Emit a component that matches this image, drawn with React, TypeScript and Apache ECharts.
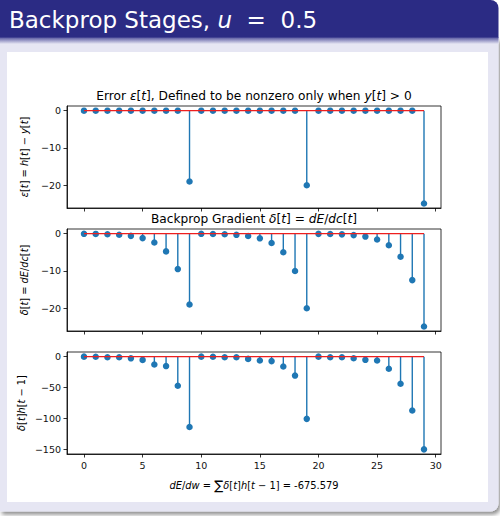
import React, { useEffect, useRef } from "react";
import * as echarts from "echarts";

// ---- data ----
const timeSteps = [0, 1, 2, 3, 4, 5, 6, 7, 8, 9, 10, 11, 12, 13, 14, 15, 16, 17, 18, 19, 20, 21, 22, 23, 24, 25, 26, 27, 28, 29];
const errorValues = [0, 0, 0, 0, 0, 0, 0, 0, 0, -19, 0, 0, 0, 0, 0, 0, 0, 0, 0, -20, 0, 0, 0, 0, 0, 0, 0, 0, 0, -24.9];
const gradientValues = [
  -0.04, -0.07, -0.15, -0.3, -0.59, -1.19, -2.38, -4.75, -9.5, -19.0,
  -0.04, -0.08, -0.16, -0.31, -0.63, -1.25, -2.5, -5.0, -10.0, -20.0,
  -0.05, -0.1, -0.19, -0.39, -0.78, -1.56, -3.1, -6.2, -12.45, -24.9,
];
const productValues = [
  0, -0.1, -1, -1, -2.7, -5.3, -12.6, -15.2, -47, -113.5,
  0, -0.1, -1, -1, -3.6, -6.2, -7.2, -15.8, -30.5, -100.3,
  0, -0.9, -1, -2.6, -5.1, -6.2, -19.5, -43.8, -86.8, -149.5,
];
const xTickValues = [0, 5, 10, 15, 20, 25, 30];
const yTicksSmall = [0, -10, -20];
const yTicksLarge = [0, -50, -100, -150];

const BLUE = "#1f77b4";
const RED = "#ee1f1f";
const FONT = "DejaVu Sans";

const fmt = (v: number) => (v < 0 ? "\u2212" + Math.abs(v) : String(v));

const GRID_LEFT = 67;
const GRID_W = 374;
const GRID_H = 102;
const GRID_TOPS = [106, 229, 352];

export default function App() {
  const ref = useRef<HTMLDivElement>(null);

  useEffect(() => {
    if (!ref.current) return;
    const chart = echarts.init(ref.current, null, { renderer: "svg" });

    const panels = [
      { values: errorValues, yMin: -26.1, yMax: 1.25, ticks: yTicksSmall },
      { values: gradientValues, yMin: -26.1, yMax: 1.25, ticks: yTicksSmall },
      { values: productValues, yMin: -157, yMax: 7.5, ticks: yTicksLarge },
    ];

    const grid = GRID_TOPS.map((top) => ({
      left: GRID_LEFT,
      top,
      width: GRID_W,
      height: GRID_H,
      show: true,
      borderColor: "#000",
      borderWidth: 0.8,
      backgroundColor: "rgba(0,0,0,0)",
      z: 1,
    }));

    const xAxis = panels.map((_, i) => ({
      type: "value",
      gridIndex: i,
      min: -1.45,
      max: 30.45,
      axisLine: { show: true, onZero: false, lineStyle: { color: "#000", width: 0.8 } },
      splitLine: { show: false },
      axisTick: {
        show: true,
        length: 3.5,
        inside: false,
        customValues: xTickValues,
        lineStyle: { color: "#000", width: 0.8 },
      },
      axisLabel: {
        show: i === 2,
        customValues: xTickValues,
        margin: 6,
        color: "#111",
        fontFamily: FONT,
        fontSize: 9.5,
        formatter: fmt,
      },
    }));

    const yAxis = panels.map((p, i) => ({
      type: "value",
      gridIndex: i,
      min: p.yMin,
      max: p.yMax,
      axisLine: { show: true, onZero: false, lineStyle: { color: "#000", width: 0.8 } },
      splitLine: { show: false },
      axisTick: {
        show: true,
        length: 3.5,
        inside: false,
        customValues: p.ticks,
        lineStyle: { color: "#000", width: 0.8 },
      },
      axisLabel: {
        show: true,
        customValues: p.ticks,
        margin: 6,
        color: "#111",
        fontFamily: FONT,
        fontSize: 9.5,
        formatter: fmt,
      },
    }));

    const series: any[] = [];
    panels.forEach((p, i) => {
      const data = timeSteps.map((t, k) => [t, p.values[k]]);
      series.push({
        type: "custom",
        xAxisIndex: i,
        yAxisIndex: i,
        data,
        encode: { x: 0, y: 1 },
        z: 2,
        renderItem: (_params: any, api: any) => {
          const a = api.coord([api.value(0), 0]);
          const b = api.coord([api.value(0), api.value(1)]);
          return {
            type: "line",
            shape: { x1: a[0], y1: a[1], x2: b[0], y2: b[1] },
            style: { stroke: BLUE, lineWidth: 1.4 },
          };
        },
      });
      series.push({
        type: "scatter",
        xAxisIndex: i,
        yAxisIndex: i,
        data,
        symbol: "circle",
        symbolSize: 6.5,
        itemStyle: { color: BLUE, opacity: 1 },
        z: 3,
      });
      series.push({
        type: "line",
        xAxisIndex: i,
        yAxisIndex: i,
        data: [
          [timeSteps[0], 0],
          [timeSteps[timeSteps.length - 1], 0],
        ],
        showSymbol: false,
        symbol: "none",
        lineStyle: { color: RED, width: 1.4 },
        z: 4,
      });
    });

    const mplRich = (size: number) => ({
      n: { fontFamily: FONT, fontSize: size, fill: "#000" },
      i: { fontFamily: FONT, fontSize: size, fontStyle: "italic", fill: "#000" },
      s: { fontFamily: FONT, fontSize: size * 1.35, fill: "#000" },
    });

    const centerX = GRID_LEFT + GRID_W / 2;

    const graphic: any[] = [
      // slide block shadow + background
      {
        type: "rect",
        z: -100,
        shape: { x: 0, y: 38, width: 498.5, height: 473.5, r: [0, 0, 8, 0] },
        style: {
          fill: "#e6e6f3",
          shadowColor: "rgba(0,0,0,0.45)",
          shadowBlur: 4,
          shadowOffsetX: 2,
          shadowOffsetY: 3,
        },
      },
      // title bar
      {
        type: "rect",
        z: -99,
        shape: { x: 0, y: 0, width: 498.5, height: 38, r: [0, 8, 0, 0] },
        style: { fill: "#2b2b84" },
      },
      {
        type: "rect",
        z: -98,
        shape: { x: 0, y: 37.5, width: 498.5, height: 6.5 },
        style: {
          fill: new echarts.graphic.LinearGradient(0, 0, 0, 1, [
            { offset: 0, color: "#5a5aa2" },
            { offset: 1, color: "#e6e6f3" },
          ]),
        },
      },
      // white content box
      {
        type: "rect",
        z: -97,
        shape: { x: 7, y: 52, width: 481, height: 450 },
        style: { fill: "#ffffff" },
      },
      // slide title
      {
        type: "text",
        z: 100,
        x: 9,
        y: 19.5,
        style: {
          text: "{n|Backprop Stages, }{i|u}{n|  =  0.5}",
          verticalAlign: "middle",
          align: "left",
          rich: {
            n: { fontFamily: "DejaVu Sans", fontSize: 23, fill: "#ffffff" },
            i: { fontFamily: "DejaVu Sans", fontSize: 23, fontStyle: "italic", fill: "#ffffff" },
          },
        },
      },
      // panel titles
      {
        type: "text",
        z: 100,
        x: centerX,
        y: 96,
        style: {
          text: "{n|Error }{i|ε}{n|[}{i|t}{n|], Defined to be nonzero only when }{i|y}{n|[}{i|t}{n|] > 0}",
          align: "center",
          verticalAlign: "middle",
          rich: mplRich(12.2),
        },
      },
      {
        type: "text",
        z: 100,
        x: centerX,
        y: 218.5,
        style: {
          text: "{n|Backprop Gradient }{i|δ}{n|[}{i|t}{n|] = }{i|dE}{n|/}{i|dc}{n|[}{i|t}{n|]}",
          align: "center",
          verticalAlign: "middle",
          rich: mplRich(12.2),
        },
      },
      // x label
      {
        type: "text",
        z: 100,
        x: centerX,
        y: 485,
        style: {
          text: "{i|dE}{n|/}{i|dw}{n| = }{s|∑}{i|δ}{n|[}{i|t}{n|]}{i|h}{n|[}{i|t}{n| − 1] = -675.579}",
          align: "center",
          verticalAlign: "middle",
          rich: mplRich(9.9),
        },
      },
      // y labels
      {
        type: "text",
        z: 100,
        x: 24,
        y: GRID_TOPS[0] + GRID_H / 2,
        rotation: Math.PI / 2,
        style: {
          text: "{i|ε}{n|[}{i|t}{n|] = }{i|h}{n|[}{i|t}{n|] − }{i|y}{n|[}{i|t}{n|]}",
          align: "center",
          verticalAlign: "middle",
          rich: mplRich(9.8),
        },
      },
      {
        type: "text",
        z: 100,
        x: 24,
        y: GRID_TOPS[1] + GRID_H / 2,
        rotation: Math.PI / 2,
        style: {
          text: "{i|δ}{n|[}{i|t}{n|] = }{i|dE}{n|/}{i|dc}{n|[}{i|t}{n|]}",
          align: "center",
          verticalAlign: "middle",
          rich: mplRich(9.8),
        },
      },
      {
        type: "text",
        z: 100,
        x: 21,
        y: GRID_TOPS[2] + GRID_H / 2,
        rotation: Math.PI / 2,
        style: {
          text: "{i|δ}{n|[}{i|t}{n|]}{i|h}{n|[}{i|t}{n| − 1]}",
          align: "center",
          verticalAlign: "middle",
          rich: mplRich(9.8),
        },
      },
    ];

    chart.setOption({
      animation: false,
      backgroundColor: "#ffffff",
      grid,
      xAxis,
      yAxis,
      series,
      graphic,
    });

    return () => chart.dispose();
  }, []);

  return (
    <div
      ref={ref}
      style={{ position: "fixed", left: 0, top: 0, width: 500, height: 516 }}
    />
  );
}
